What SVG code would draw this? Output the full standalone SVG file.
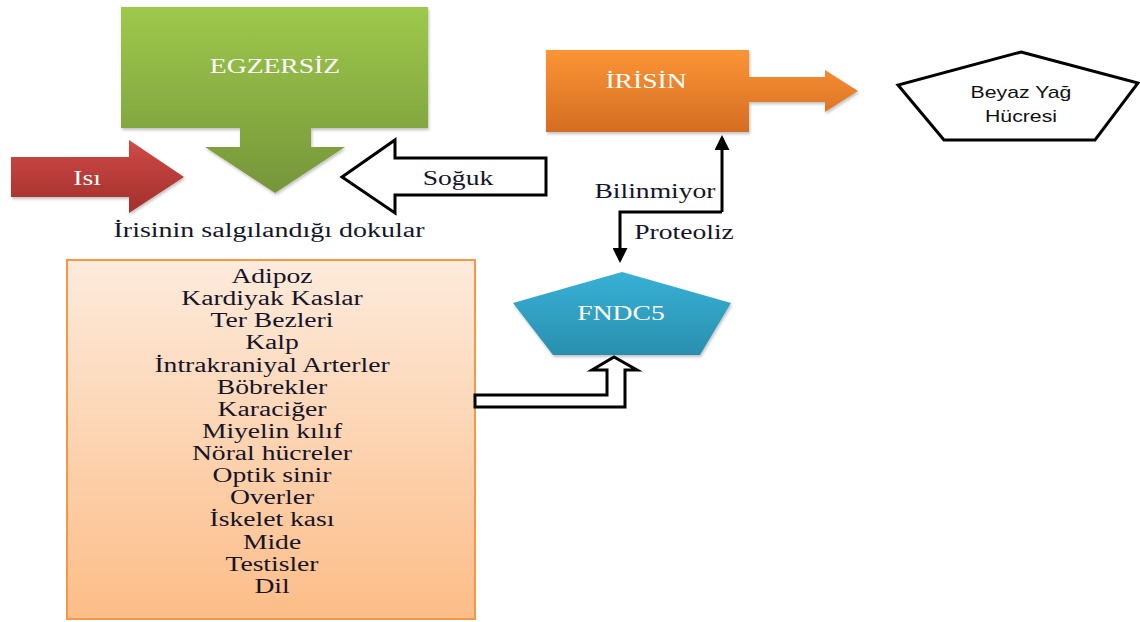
<svg xmlns="http://www.w3.org/2000/svg" width="1140" height="622" viewBox="0 0 1140 622">
<style>
.serif{font-family:"Liberation Serif","Times New Roman",serif;font-size:20px;fill:#15152a;text-anchor:middle}
.wt{fill:#ffffff}
.sans{font-family:"Liberation Sans",Arial,sans-serif;font-size:17px;fill:#111;text-anchor:middle}
.outl{fill:#ffffff;stroke:#000;stroke-width:3;stroke-linejoin:miter}
.conn{fill:none;stroke:#000;stroke-width:3}
</style>
<defs>
<linearGradient id="gGreen" x1="0" y1="0" x2="0" y2="1"><stop offset="0" stop-color="#9dc94c"/><stop offset="1" stop-color="#76953a"/></linearGradient>
<linearGradient id="gRed" x1="0" y1="0" x2="0" y2="1"><stop offset="0" stop-color="#cf4a47"/><stop offset="1" stop-color="#a22f2c"/></linearGradient>
<linearGradient id="gOrange" x1="0" y1="0" x2="0" y2="1"><stop offset="0" stop-color="#fb9535"/><stop offset="1" stop-color="#d56d22"/></linearGradient>
<linearGradient id="gBlue" x1="0" y1="0" x2="0" y2="1"><stop offset="0" stop-color="#37b1d6"/><stop offset="1" stop-color="#2a8fae"/></linearGradient>
<linearGradient id="gPeach" x1="0" y1="0" x2="0" y2="1"><stop offset="0" stop-color="#fdebdc"/><stop offset="1" stop-color="#fcbd88"/></linearGradient>
<filter id="sh" x="-10%" y="-10%" width="120%" height="130%"><feDropShadow dx="1" dy="2" stdDeviation="1.5" flood-color="#000" flood-opacity="0.25"/></filter>
<marker id="ah" viewBox="0 0 10 10" refX="8" refY="5" markerWidth="5" markerHeight="5" orient="auto-start-reverse"><path d="M0,0 L10,5 L0,10 z" fill="#000"/></marker>
</defs>

<g id="egzersiz">
<path d="M121,7 H428 V128 H311 V147 H345 L275,193 L205,147 H240 V128 H121 Z" fill="url(#gGreen)" filter="url(#sh)"/>
<text class="serif wt" transform="translate(275,73) scale(1.38,1)">EGZERSİZ</text>
</g>

<g id="isi">
<path d="M11,157 H129 V140 L184,177 L129,213 V197 H11 Z" fill="url(#gRed)" filter="url(#sh)"/>
<text class="serif wt" transform="translate(87,185) scale(1.38,1)">Isı</text>
</g>

<g id="soguk">
<path d="M546,158 H395 V140 L342,177 L395,213 V195 H546 Z" class="outl"/>
<text class="serif" transform="translate(458,185) scale(1.38,1)">Soğuk</text>
</g>

<g id="baslik">
<text class="serif" transform="translate(269,237) scale(1.4,1)">İrisinin salgılandığı dokular</text>
</g>

<g id="dokular">
<rect x="67" y="260" width="408" height="359" fill="url(#gPeach)" stroke="#f79646" stroke-width="2"/>
<g class="serif">
<text transform="translate(272,283) scale(1.38,1)">Adipoz</text>
<text transform="translate(272,305) scale(1.38,1)">Kardiyak Kaslar</text>
<text transform="translate(272,327) scale(1.38,1)">Ter Bezleri</text>
<text transform="translate(272,349) scale(1.38,1)">Kalp</text>
<text transform="translate(272,372) scale(1.38,1)">İntrakraniyal Arterler</text>
<text transform="translate(272,394) scale(1.38,1)">Böbrekler</text>
<text transform="translate(272,416) scale(1.38,1)">Karaciğer</text>
<text transform="translate(272,438) scale(1.38,1)">Miyelin kılıf</text>
<text transform="translate(272,460) scale(1.38,1)">Nöral hücreler</text>
<text transform="translate(272,482) scale(1.38,1)">Optik sinir</text>
<text transform="translate(272,504) scale(1.38,1)">Overler</text>
<text transform="translate(272,526) scale(1.38,1)">İskelet kası</text>
<text transform="translate(272,549) scale(1.38,1)">Mide</text>
<text transform="translate(272,571) scale(1.38,1)">Testisler</text>
<text transform="translate(272,593) scale(1.38,1)">Dil</text>
</g>
</g>

<g id="irisin">
<path d="M546,50 H749 V77 H825 V70 L858,91 L825,112 V102 H749 V132 H546 Z" fill="url(#gOrange)" filter="url(#sh)"/>
<text class="serif wt" transform="translate(646,88) scale(1.38,1)">İRİSİN</text>
</g>

<g id="beyaz-yag">
<path d="M1021,52 L1138,83 L1095,140 L944,140 L898,85 Z" fill="#fff" stroke="#000" stroke-width="3" stroke-linejoin="miter"/>
<text class="sans" transform="translate(1021,98) scale(1.25,1)">Beyaz Yağ</text>
<text class="sans" transform="translate(1021,122) scale(1.25,1)">Hücresi</text>
</g>

<g id="fndc5">
<path d="M622,272 L731,303 L700,355 L553,355 L513,303 Z" fill="url(#gBlue)" filter="url(#sh)"/>
<text class="serif wt" transform="translate(621,320) scale(1.38,1)">FNDC5</text>
</g>

<g id="connectors">
<path d="M722,212 V138" class="conn" marker-end="url(#ah)"/>
<path d="M722,212 H620 V260" class="conn" marker-end="url(#ah)"/>
<text class="serif" transform="translate(655,198) scale(1.38,1)">Bilinmiyor</text>
<text class="serif" transform="translate(684,239) scale(1.38,1)">Proteoliz</text>
<path d="M475,395 H607 V370 H592 L614,357 L637,370 H625 V407 H475 Z" class="outl"/>
</g>
</svg>
